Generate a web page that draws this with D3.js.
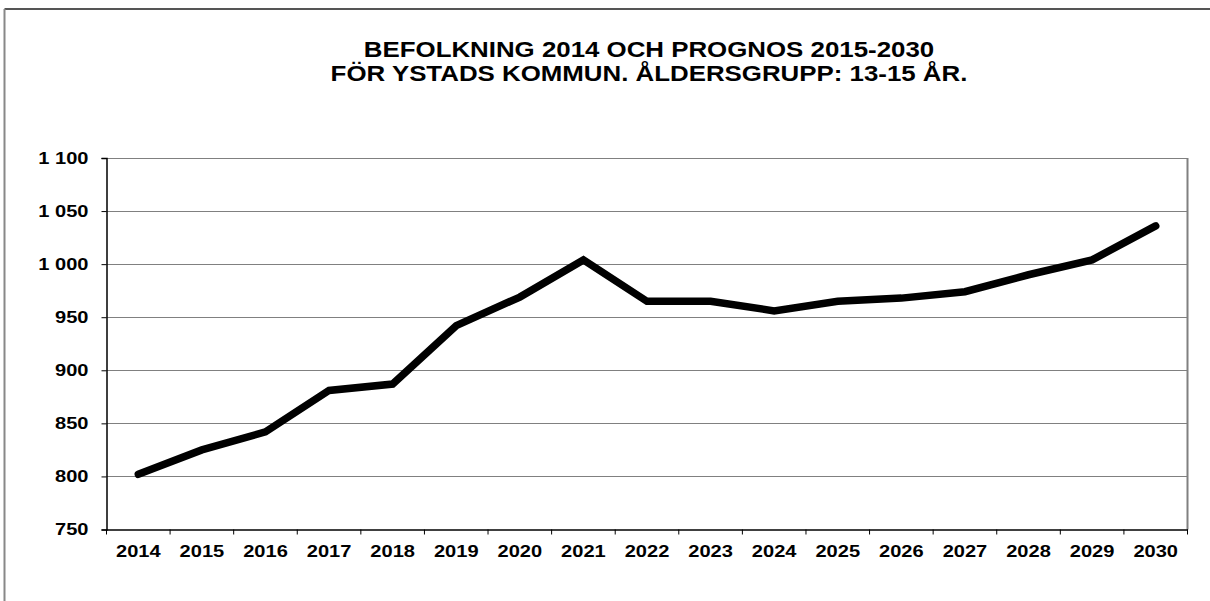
<!DOCTYPE html>
<html><head><meta charset="utf-8">
<script src="https://cdn.jsdelivr.net/npm/d3@7"></script>
<style>
body{margin:0;background:#fff;}
text{font-family:Arial,"Liberation Sans",sans-serif;font-weight:bold;fill:#000;}
</style></head><body>
<svg id="c" width="1210" height="601"></svg>
<script>
const years = ["2014","2015","2016","2017","2018","2019","2020","2021","2022","2023","2024","2025","2026","2027","2028","2029","2030"];
const population = [802,825,842,881,887,942,969,1004,965,965,956,965,968,974,990,1004,1036];
const yTicks = [750,800,850,900,950,1000,1050,1100];
const titleLines = ["BEFOLKNING 2014 OCH PROGNOS 2015-2030","FÖR YSTADS KOMMUN. ÅLDERSGRUPP: 13-15 ÅR."];

const svg = d3.select("#c");
const L=106.5, R=1187.5, T=158, B=529.5;

function stretch(sel, f){
  sel.each(function(){
    const w = this.getComputedTextLength();
    d3.select(this).attr("textLength", w*f).attr("lengthAdjust","spacingAndGlyphs");
  });
}

// outer frame
svg.append("line").attr("x1",4.5).attr("x2",1210).attr("y1",9).attr("y2",9).attr("stroke","#555").attr("stroke-width",2);
svg.append("line").attr("x1",4.5).attr("x2",4.5).attr("y1",9).attr("y2",601).attr("stroke","#888").attr("stroke-width",2);

const tt = svg.selectAll("text.title").data(titleLines).enter().append("text")
  .attr("class","title")
  .attr("x",649).attr("y",(d,i)=>57+i*24).attr("text-anchor","middle")
  .style("font-size","22px").text(d=>d);
stretch(tt, 1.175);

const x = d3.scaleBand().domain(years).range([L,R]);
const y = d3.scaleLinear().domain([750,1100]).range([B,T]);

// gridlines
svg.append("g").selectAll("line").data(yTicks.slice(1)).enter().append("line")
  .attr("x1",L).attr("x2",R).attr("y1",d=>Math.round(y(d))+0.5).attr("y2",d=>Math.round(y(d))+0.5)
  .attr("stroke","#808080").attr("stroke-width",1);

// plot border right
svg.append("line").attr("x1",R).attr("x2",R).attr("y1",T).attr("y2",B).attr("stroke","#808080").attr("stroke-width",2);

// y axis
const ya = svg.append("g").attr("transform",`translate(${L},0)`)
  .call(d3.axisLeft(y).tickValues(yTicks).tickSize(5).tickPadding(13).tickFormat(d=>d3.format(",")(d).replace(",","\u00a0")));
ya.select(".domain").attr("stroke","#000").attr("stroke-width",1.5);
ya.selectAll("text").style("font-size","17px").attr("font-family",null);
ya.selectAll(".tick line").attr("stroke","#000");
stretch(ya.selectAll("text"), 1.18);

// x axis
const xa = svg.append("g").attr("transform",`translate(0,${B})`)
  .call(d3.axisBottom(x).tickSize(0).tickPadding(15));
xa.select(".domain").attr("stroke","#000").attr("stroke-width",1.5);
xa.selectAll("text").style("font-size","17px").attr("font-family",null);
stretch(xa.selectAll("text"), 1.18);
const bounds = years.map(d=>x(d)).concat([R]);
svg.append("g").selectAll("line").data(bounds).enter().append("line")
  .attr("x1",d=>d).attr("x2",d=>d).attr("y1",B).attr("y2",B+5).attr("stroke","#000");

// line
const line = d3.line().x((d,i)=>x(years[i])+x.bandwidth()/2).y(d=>y(d));
svg.append("path").datum(population).attr("d",line).attr("fill","none")
  .attr("stroke","#000").attr("stroke-width",7.5).attr("stroke-linejoin","miter").attr("stroke-linecap","round");
</script></body></html>
